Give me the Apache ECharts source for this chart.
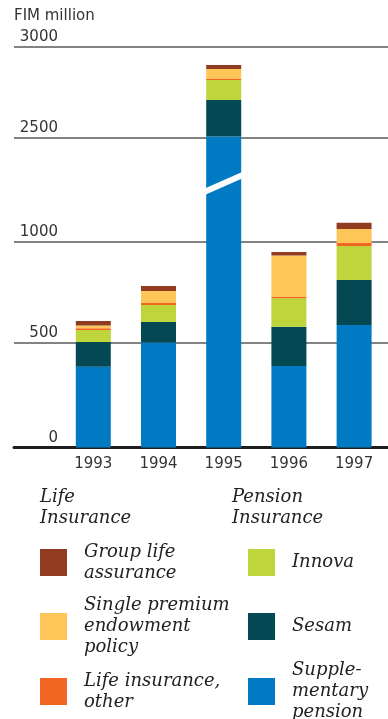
<!DOCTYPE html>
<html><head><meta charset="utf-8">
<script src="https://cdn.jsdelivr.net/npm/echarts@6/dist/echarts.min.js"></script>
<style>html,body{margin:0;padding:0;background:#fff}#c{width:388px;height:719px}</style>
</head><body><div id="c"></div>
<script>
// ---- data (FIM million) ----
const years = ['1993', '1994', '1995', '1996', '1997'];
const supplementaryPension = [385, 500, 2505, 388, 587];
const sesam = [117, 102, 202, 190, 223];
const innova = [60, 84, 110, 142, 169];
const lifeInsuranceOther = [9, 10, 5, 6, 15];
const singlePremiumEndowment = [13, 59, 56, 205, 69];
const groupLifeAssurance = [23, 25, 22, 18, 31];
const tickValues = [0, 500, 1000, 2500, 3000];
const tickLabels = ['0', '500', '1000', '2500', '3000'];
// broken value axis (1000 -> 2500 compressed)
const breakValues = [0, 500, 1000, 1500, 2500, 3000];
const breakScale = [0, 105, 205.8, 306.6, 310, 400.7];

function mapValue(v) {
  for (let i = 1; i < breakValues.length; i++) {
    if (v <= breakValues[i]) {
      const t = (v - breakValues[i - 1]) / (breakValues[i] - breakValues[i - 1]);
      return breakScale[i - 1] + t * (breakScale[i] - breakScale[i - 1]);
    }
  }
  return breakScale[breakScale.length - 1];
}

const seriesDefs = [
  { name: 'Supplementary pension', text: 'Supple-\nmentary\npension', data: supplementaryPension, color: '#007AC3' },
  { name: 'Sesam', text: 'Sesam', data: sesam, color: '#034853' },
  { name: 'Innova', text: 'Innova', data: innova, color: '#BED63C' },
  { name: 'Life insurance, other', text: 'Life insurance,\nother', data: lifeInsuranceOther, color: '#F26522' },
  { name: 'Single premium endowment policy', text: 'Single premium\nendowment\npolicy', data: singlePremiumEndowment, color: '#FEC658' },
  { name: 'Group life assurance', text: 'Group life\nassurance', data: groupLifeAssurance, color: '#913C20' }
];

// stacked drawn heights through the broken scale
const cum = years.map(() => 0);
const barSeries = seriesDefs.map(def => {
  const seg = def.data.map((v, i) => {
    const lo = mapValue(cum[i]);
    cum[i] += v;
    return +(mapValue(cum[i]) - lo).toFixed(2);
  });
  return {
    type: 'bar', name: def.name, stack: 'total', data: seg,
    xAxisIndex: 1, yAxisIndex: 1, barWidth: 35,
    itemStyle: { color: def.color }, z: 3, silent: true
  };
});

const textFont = 'DejaVu Sans';
const serif = 'DejaVu Serif';
const maxDisp = 401;

const legendPos = {
  'Group life assurance': { left: 40, top: 541.5 },
  'Single premium endowment policy': { left: 40, top: 595 },
  'Life insurance, other': { left: 40, top: 670.5 },
  'Innova': { left: 248, top: 549 },
  'Sesam': { left: 248, top: 613 },
  'Supplementary pension': { left: 248, top: 660 }
};
const legends = seriesDefs.map(def => ({
  data: [def.name], left: legendPos[def.name].left, top: legendPos[def.name].top,
  padding: 0, icon: 'rect', itemWidth: 27, itemHeight: 27, selectedMode: false,
  formatter: () => def.text,
  textStyle: { fontFamily: serif, fontStyle: 'italic', fontSize: 18, lineHeight: 21, color: '#222', padding: [0, 0, 0, 12] }
}));

const option = {
  animation: false,
  backgroundColor: '#fff',
  title: [
    { text: 'FIM million', left: 14, top: 9, padding: 0,
      textStyle: { fontFamily: textFont, fontWeight: 'normal', fontSize: 15, color: '#333' } },
    { text: 'Life\nInsurance', left: 40, top: 487, padding: 0,
      textStyle: { fontFamily: serif, fontStyle: 'italic', fontWeight: 'normal', fontSize: 18, lineHeight: 21, color: '#222' } },
    { text: 'Pension\nInsurance', left: 232, top: 487, padding: 0,
      textStyle: { fontFamily: serif, fontStyle: 'italic', fontWeight: 'normal', fontSize: 18, lineHeight: 21, color: '#222' } }
  ],
  legend: legends,
  grid: [
    { left: 14, right: 0, top: 46.5, height: maxDisp },
    { left: 60.7, right: 1.3, top: 46.5, height: maxDisp }
  ],
  xAxis: [
    { gridIndex: 0, type: 'value', min: 0, max: 1,
      axisLine: { show: true, lineStyle: { color: '#1e1e1e', width: 3 } },
      axisTick: { show: false }, axisLabel: { show: false }, splitLine: { show: false } },
    { gridIndex: 1, type: 'category', data: years,
      axisLine: { show: false }, axisTick: { show: false },
      axisLabel: { fontFamily: textFont, fontSize: 15, color: '#333', margin: 9 } }
  ],
  yAxis: [
    { gridIndex: 0, type: 'value', min: 0, max: maxDisp,
      axisLine: { show: false }, axisTick: { show: false }, splitLine: { show: false },
      axisLabel: {
        customValues: tickValues.map(mapValue),
        inside: true, align: 'right', margin: 44, verticalAlign: 'bottom',
        padding: [0, 0, 2, 0],
        fontFamily: textFont, fontSize: 15, color: '#333',
        formatter: (val) => {
          let best = 0, d = Infinity;
          tickValues.forEach((t, i) => { const dd = Math.abs(mapValue(t) - val); if (dd < d) { d = dd; best = i; } });
          return tickLabels[best];
        }
      } },
    { gridIndex: 1, type: 'value', min: 0, max: maxDisp, show: false }
  ],
  series: [
    { type: 'line', xAxisIndex: 0, yAxisIndex: 0, data: [], silent: true, z: 1,
      markLine: {
        silent: true, symbol: 'none', animation: false, z: 1,
        label: { show: false },
        lineStyle: { color: '#5a5a5a', width: 1.6, type: 'solid' },
        data: tickValues.filter(v => v > 0).map(v => ({ yAxis: mapValue(v) }))
      } }
  ].concat(barSeries).concat([
    { type: 'custom', xAxisIndex: 1, yAxisIndex: 1, z: 5, silent: true,
      data: [[2, mapValue(1000) + 0.56 * (mapValue(2500) - mapValue(1000))]],
      renderItem: (params, api) => {
        const c = api.coord([api.value(0), api.value(1)]);
        const hw = 19, rise = 8.4, th = 3.2;
        return {
          type: 'polygon',
          shape: { points: [
            [c[0] - hw, c[1] + rise - th], [c[0] + hw, c[1] - rise - th],
            [c[0] + hw, c[1] - rise + th], [c[0] - hw, c[1] + rise + th]
          ] },
          style: { fill: '#fff' }
        };
      } }
  ])
};

const chart = echarts.init(document.getElementById('c'), null, { renderer: 'canvas' });
chart.setOption(option);
</script>
</body></html>
